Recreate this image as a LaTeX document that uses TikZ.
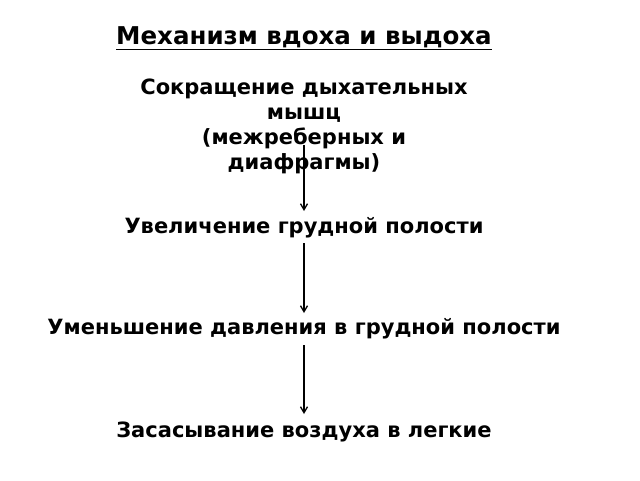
\documentclass[tikz,border=0pt]{standalone}
\usepackage{fontspec}
\setmainfont{DejaVu Sans}
\usetikzlibrary{arrows.meta}
\begin{document}
\begin{tikzpicture}[x=1pt,y=-1pt,
  lbl/.style={font=\bfseries\fontsize{21}{25}\selectfont,align=center,inner sep=0pt},
  arr/.style={-{Straight Barb[length=6pt,width=7pt]},line width=1.3pt}]
\useasboundingbox (0,0) rectangle (640,480);
\node[inner sep=0pt,font=\bfseries\fontsize{24.5}{28}\selectfont] (t) at (304,38) {\underline{Механизм вдоха и выдоха}};
\node[lbl] (a) at (304,126) {Сокращение дыхательных\\мышц\\(межреберных и\\диафрагмы)};
\node[lbl] (b) at (304,228) {Увеличение грудной полости};
\node[lbl] (c) at (304,329) {Уменьшение давления в грудной полости};
\node[lbl] (d) at (304,432) {Засасывание воздуха в легкие};
\coordinate (s) at (304,145);
\draw[arr] (s) -- (304,211);
\draw[arr] (304,243) -- (304,313);
\draw[arr] (304,345) -- (304,414);
\end{tikzpicture}
\end{document}
